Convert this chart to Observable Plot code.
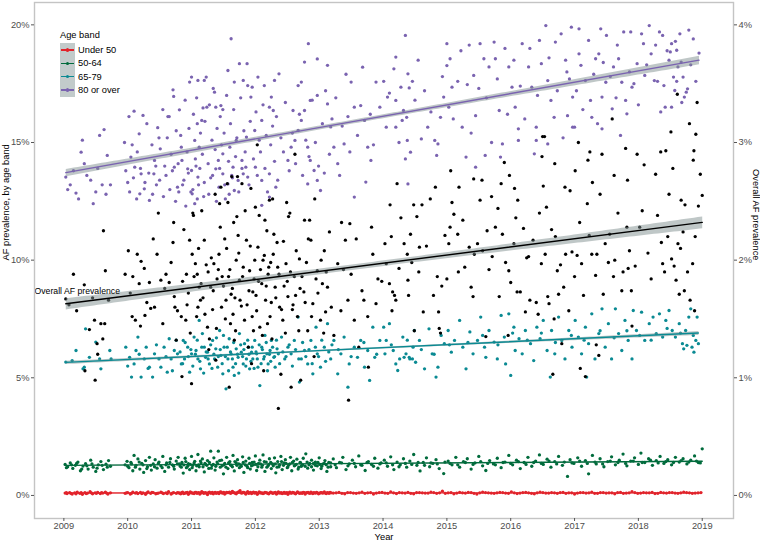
<!DOCTYPE html>
<html>
<head>
<meta charset="utf-8">
<script src="https://cdn.jsdelivr.net/npm/d3@7"></script>
<script src="https://cdn.jsdelivr.net/npm/@observablehq/plot@0.6"></script>
<style>
  html, body { margin: 0; padding: 0; background: #fff; }
  #wrap { position: relative; width: 760px; height: 541px; font-family: "Liberation Sans", Arial, sans-serif; }
  #legend { position: absolute; left: 0; top: 0; font-size: 9.3px; color: #000; }
</style>
</head>
<body>
<div id="wrap"><div id="chart"></div><div id="legend"></div></div>
<script>
// ---- data (t = years since 2009, values in %) ----
const startYear = 2009;
const xTicks = [2009, 2010, 2011, 2012, 2013, 2014, 2015, 2016, 2017, 2018, 2019];
const yTicks = [0, 5, 10, 15, 20];
const overallTicks = [0, 1, 2, 3, 4];
const bandNames = ["Under 50", "50-64", "65-79", "80 or over"];
const bandColors = ["#e2232b", "#006b3c", "#0a8a93", "#7a63b0"];
const annotations = [{label: "Overall AF prevalence", overall: 1.74}];

const under50 = [[.02,.10],[.05,.08],[.09,.12],[.13,.06],[.17,.11],[.21,.14],[.25,.09],[.29,.05],[.33,.12],[.37,.10],[.41,.16],[.45,.07],[.49,.11],[.53,.13],[.57,.08],[.61,.10],[.65,.14],[.69,.06],[.73,.11],
[.96,.09],[1.0,.12],[1.04,.06],[1.08,.14],[1.12,.10],[1.16,.08],[1.2,.13],[1.24,.11],[1.28,.05],[1.32,.15],[1.36,.09],[1.4,.12],[1.44,.07],[1.48,.10],[1.52,.14],[1.56,.08],[1.6,.11],[1.64,.16],[1.68,.06],[1.72,.12],[1.76,.09],
[1.80,.11],[1.83,.07],[1.86,.14],[1.89,.09],[1.92,.12],[1.95,.05],[1.98,.15],[2.01,.10],[2.04,.08],[2.07,.13],[2.10,.11],[2.13,.06],[2.16,.16],[2.19,.09],[2.22,.12],[2.25,.04],[2.28,.14],[2.31,.10],[2.34,.07],[2.37,.13],[2.40,.11],[2.43,.08],[2.46,.15],[2.49,.10],[2.52,.06],[2.55,.13],[2.58,.12],[2.61,.09],[2.64,.17],[2.67,.11],[2.70,.07],[2.73,.14],[2.76,.20],[2.79,.10],[2.82,.13],[2.85,.06],[2.88,.16],[2.91,.11],[2.94,.08],[2.97,.14],[3.00,.12],[3.03,.05],[3.06,.15],[3.09,.10],[3.12,.08],[3.15,.13],[3.18,.11],[3.21,.07],[3.24,.14],[3.27,.09],[3.30,.12],[3.33,.06],[3.36,.15],[3.39,.10],[3.42,.08],[3.45,.13],[3.48,.11],[3.51,.05],[3.54,.14],[3.57,.10],[3.60,.12],[3.63,.07],[3.66,.15],[3.69,.09],[3.72,.11],[3.75,.13],[3.78,.06],[3.81,.12],[3.84,.10],[3.87,.14],[3.90,.08],[3.93,.11],[3.96,.13],[3.99,.07],[4.02,.12],[4.05,.10],[4.08,.15],[4.11,.08],[4.14,.11],[4.17,.13],
[4.22,.10],[4.31,.13],[4.40,.07],[4.49,.12],[4.58,.09],[4.67,.14],[4.76,.11],[4.85,.06],[4.94,.12],[5.03,.10],[5.12,.15],[5.21,.08],[5.30,.11],[5.39,.13],[5.48,.07],[5.57,.12],[5.66,.10],[5.75,.14],[5.84,.09],[5.93,.18],[6.02,.11],[6.11,.07],[6.20,.13],[6.29,.10],[6.38,.12],[6.47,.06],[6.56,.14],[6.65,.11],[6.74,.09],[6.83,.13],[6.92,.10],[7.01,.15],[7.10,.08],[7.19,.12],[7.28,.11],[7.37,.07],[7.46,.14],[7.55,.10],[7.64,.12],[7.73,.09],[7.82,.13],[7.91,.11],[8.00,.06],[8.09,.12],[8.18,.10],[8.27,.14],[8.36,.09],[8.45,.12],[8.54,.11],[8.63,.07],[8.72,.13],[8.81,.10],[8.90,.16],[8.99,.09],[9.08,.12],[9.17,.11],[9.26,.08],[9.35,.13],[9.44,.10],[9.53,.12],[9.62,.09],[9.71,.14],[9.80,.11],[9.89,.10],[9.98,.12]];
const under50More = [[.04,.12],[.11,.09],[.19,.07],[.27,.12],[.35,.08],[.43,.11],[.51,.09],[.59,.12],[.67,.10],
[.98,.11],[1.06,.09],[1.14,.12],[1.22,.08],[1.3,.11],[1.38,.13],[1.46,.09],[1.54,.11],[1.62,.08],[1.7,.10],[1.78,.12],
[1.815,.10],[1.845,.12],[1.875,.08],[1.905,.11],[1.935,.13],[1.965,.09],[1.995,.12],[2.025,.10],[2.055,.13],[2.085,.09],[2.115,.12],[2.145,.10],[2.175,.13],[2.205,.11],[2.235,.09],[2.265,.12],[2.295,.10],[2.325,.13],[2.355,.11],[2.385,.09],[2.415,.12],[2.445,.14],[2.475,.11],[2.505,.13],[2.535,.10],[2.565,.12],[2.595,.14],[2.625,.11],[2.655,.13],[2.685,.10],[2.715,.12],[2.745,.15],[2.775,.11],[2.805,.13],[2.835,.10],[2.865,.12],[2.895,.09],[2.925,.13],[2.955,.11],[2.985,.10],[3.015,.12],[3.045,.09],[3.075,.12],[3.105,.11],[3.135,.10],[3.165,.12],[3.195,.09],[3.225,.11],[3.255,.12],[3.285,.10],[3.315,.13],[3.345,.09],[3.375,.11],[3.405,.12],[3.435,.10],[3.465,.09],[3.495,.12],[3.525,.11],[3.555,.10],[3.585,.13],[3.615,.09],[3.645,.11],[3.675,.12],[3.705,.10],[3.735,.09],[3.765,.12],[3.795,.11],[3.825,.13],[3.855,.09],[3.885,.11],[3.915,.12],[3.945,.10],[3.975,.11],[4.005,.09],[4.035,.12],[4.065,.11],[4.095,.10],[4.125,.12],[4.155,.09],[4.185,.11],
[4.265,.11],[4.355,.09],[4.445,.12],[4.535,.10],[4.625,.11],[4.715,.09],[4.805,.12],[4.895,.10],[4.985,.13],[5.075,.09],[5.165,.11],[5.255,.12],[5.345,.10],[5.435,.09],[5.525,.12],[5.615,.11],[5.705,.10],[5.795,.12],[5.885,.11],[5.975,.09],[6.065,.12],[6.155,.10],[6.245,.11],[6.335,.13],[6.425,.09],[6.515,.11],[6.605,.12],[6.695,.10],[6.785,.11],[6.875,.12],[6.965,.09],[7.055,.11],[7.145,.10],[7.235,.13],[7.325,.09],[7.415,.11],[7.505,.12],[7.595,.10],[7.685,.11],[7.775,.12],[7.865,.09],[7.955,.11],[8.045,.10],[8.135,.12],[8.225,.11],[8.315,.09],[8.405,.12],[8.495,.10],[8.585,.11],[8.675,.12],[8.765,.09],[8.855,.11],[8.945,.12],[9.035,.10],[9.125,.11],[9.215,.13],[9.305,.09],[9.395,.11],[9.485,.12],[9.575,.10],[9.665,.11],[9.755,.12],[9.845,.09],[9.935,.11]];

const age50to64 = [[.02,1.32],[.06,1.22],[.10,1.38],[.14,1.15],[.18,1.28],[.22,1.42],[.26,1.05],[.30,1.25],[.34,1.35],[.38,1.12],[.42,1.50],[.46,1.20],[.50,1.02],[.54,1.30],[.58,1.44],[.62,1.10],[.66,1.33],[.70,1.48],[.73,1.24],
[.96,1.30],[.99,1.45],[1.02,1.18],[1.05,1.40],[1.08,1.05],[1.10,1.70],[1.13,1.28],[1.16,1.55],[1.19,1.12],[1.22,1.36],[1.25,.98],[1.28,1.48],[1.31,1.22],[1.34,1.62],[1.37,1.08],[1.40,1.34],[1.43,1.52],[1.46,1.16],[1.49,1.42],[1.52,1.26],[1.55,1.66],[1.58,1.02],[1.61,1.38],[1.64,1.20],[1.67,1.56],[1.70,1.30],[1.73,1.12],[1.76,1.46],[1.79,1.62],
[1.82,1.25],[1.85,1.40],[1.87,.95],[1.90,1.58],[1.92,1.18],[1.95,1.35],[1.97,1.10],[2.00,1.66],[2.02,1.28],[2.05,1.45],[2.07,1.05],[2.10,1.74],[2.12,1.22],[2.15,1.38],[2.17,1.55],[2.20,1.00],[2.22,1.32],[2.25,1.48],[2.27,1.15],[2.30,1.88],[2.32,1.27],[2.35,1.60],[2.37,1.08],[2.40,1.42],[2.42,1.88],[2.45,1.20],[2.47,1.50],[2.50,.92],[2.52,1.36],[2.55,1.62],[2.57,1.14],[2.60,1.44],[2.62,1.28],[2.65,1.70],[2.67,1.04],[2.70,1.38],[2.72,1.52],[2.75,1.18],[2.77,1.30],[2.80,1.64],[2.82,.98],[2.85,1.46],[2.87,1.24],[2.90,1.58],[2.92,1.12],[2.95,1.40],[2.97,1.30],[3.00,1.68],[3.02,1.06],[3.05,1.36],[3.07,1.50],[3.10,1.20],[3.12,1.72],[3.15,1.02],[3.17,1.42],[3.20,1.26],[3.22,1.56],[3.25,1.14],[3.27,1.34],[3.30,1.60],[3.32,.96],[3.35,1.44],[3.37,1.22],[3.40,1.66],[3.42,1.10],[3.45,1.38],[3.47,1.52],[3.50,1.18],[3.52,1.30],[3.55,1.62],[3.57,1.05],[3.60,1.46],[3.62,1.28],[3.65,1.54],[3.67,1.12],[3.70,1.40],[3.72,1.24],[3.75,1.58],[3.79,1.77],[3.82,1.16],[3.85,1.36],[3.88,1.50],[3.91,1.08],[3.94,1.42],[3.97,1.26],[4.00,1.60],[4.03,1.14],[4.06,1.34],[4.09,1.48],[4.12,1.02],[4.15,1.40],[4.18,1.22],
[4.22,1.55],[4.27,1.18],[4.32,1.40],[4.37,1.62],[4.42,1.10],[4.47,1.34],[4.52,1.50],[4.57,1.22],[4.62,1.68],[4.67,1.28],[4.72,1.06],[4.77,1.44],[4.82,1.32],[4.87,1.58],[4.92,1.16],[4.97,1.38],[5.02,1.50],[5.07,1.24],[5.12,1.64],[5.17,1.10],[5.22,1.42],[5.27,1.30],[5.32,1.56],[5.37,1.20],[5.42,1.46],[5.48,1.74],[5.53,1.28],[5.58,1.04],[5.63,1.40],[5.68,1.60],[5.73,1.22],[5.78,1.36],[5.83,1.52],[5.88,1.14],[5.95,.93],
[6.02,1.46],[6.08,1.30],[6.14,1.62],[6.20,1.20],[6.26,1.44],[6.32,1.56],[6.38,1.12],[6.44,1.38],[6.50,1.66],[6.56,1.26],[6.61,1.06],[6.67,1.48],[6.73,1.34],[6.79,1.58],[6.85,1.18],[6.91,1.42],[6.97,1.70],[7.03,1.30],[7.09,1.50],[7.15,1.14],[7.21,1.40],[7.27,1.62],[7.33,1.24],[7.39,1.46],[7.45,1.72],[7.51,1.32],[7.57,1.54],[7.63,1.20],[7.69,1.44],[7.75,1.66],[7.81,1.28],[7.89,.81],[7.93,1.52],[7.99,1.36],[8.05,1.60],[8.11,1.24],[8.17,1.48],[8.22,.92],[8.28,1.70],[8.34,1.34],[8.40,1.56],[8.46,1.22],[8.52,1.44],[8.58,1.64],[8.64,1.30],[8.70,1.50],[8.76,1.76],[8.82,1.26],[8.88,1.46],[8.94,1.60],[9.00,1.32],[9.04,1.80],[9.10,1.40],[9.16,1.56],[9.22,1.28],[9.28,1.48],[9.34,1.66],[9.40,1.36],[9.46,1.52],[9.52,1.30],[9.58,1.62],[9.64,1.42],[9.70,1.56],[9.76,1.34],[9.82,1.50],[9.88,1.68],[9.94,1.40],[10.0,1.98]];
const age50to64More = [[.04,1.18],[.12,1.30],[.2,1.36],[.28,1.12],[.36,1.26],[.44,1.34],[.52,1.16],[.6,1.28],[.68,1.20],
[1.0,1.24],[1.06,1.34],[1.12,1.20],[1.18,1.42],[1.24,1.30],[1.3,1.14],[1.36,1.28],[1.42,1.22],[1.48,1.36],[1.54,1.18],[1.6,1.30],[1.66,1.40],[1.72,1.24],[1.78,1.34],
[1.81,1.34],[1.84,1.20],[1.88,1.30],[1.91,1.44],[1.94,1.24],[1.98,1.32],[2.01,1.18],[2.04,1.38],[2.08,1.26],[2.11,1.30],[2.14,1.46],[2.18,1.22],[2.21,1.36],[2.24,1.28],[2.28,1.40],[2.31,1.16],[2.34,1.32],[2.38,1.24],[2.41,1.34],[2.44,1.48],[2.48,1.26],[2.51,1.30],[2.54,1.20],[2.58,1.38],[2.61,1.30],[2.64,1.22],[2.68,1.44],[2.71,1.28],[2.74,1.34],[2.78,1.24],[2.81,1.40],[2.84,1.30],[2.88,1.18],[2.91,1.36],[2.94,1.26],[2.98,1.42],[3.01,1.32],[3.04,1.22],[3.08,1.34],[3.11,1.28],[3.14,1.44],[3.18,1.20],[3.21,1.32],[3.24,1.40],[3.28,1.26],[3.31,1.34],[3.34,1.20],[3.38,1.30],[3.41,1.44],[3.44,1.28],[3.48,1.36],[3.51,1.22],[3.54,1.34],[3.58,1.40],[3.61,1.26],[3.64,1.32],[3.68,1.20],[3.71,1.38],[3.74,1.30],[3.78,1.24],[3.81,1.42],[3.84,1.30],[3.88,1.22],[3.91,1.36],[3.94,1.28],[3.98,1.40],[4.01,1.32],[4.04,1.24],[4.08,1.36],[4.11,1.30],[4.14,1.20],[4.18,1.38],
[4.25,1.30],[4.35,1.38],[4.45,1.26],[4.55,1.36],[4.65,1.30],[4.75,1.40],[4.85,1.24],[4.95,1.34],[5.05,1.38],[5.15,1.30],[5.25,1.22],[5.35,1.36],[5.45,1.32],[5.55,1.40],[5.65,1.28],[5.75,1.38],[5.85,1.34],[5.97,1.42],[6.05,1.36],[6.17,1.30],[6.29,1.40],[6.41,1.32],[6.53,1.44],[6.64,1.36],[6.76,1.30],[6.88,1.40],[7.0,1.36],[7.12,1.44],[7.24,1.32],[7.36,1.40],[7.48,1.36],[7.6,1.46],[7.72,1.34],[7.84,1.42],[7.96,1.38],[8.08,1.46],[8.2,1.36],[8.32,1.42],[8.44,1.34],[8.56,1.46],[8.68,1.40],[8.8,1.36],[8.92,1.46],[9.06,1.40],[9.19,1.50],[9.31,1.38],[9.43,1.44],[9.55,1.40],[9.67,1.48],[9.79,1.42],[9.91,1.46],[9.97,1.38]];

const age65to79 = [[.03,5.67],[.13,5.73],[.19,6.16],[.30,5.38],[.32,5.45],[.34,7.08],[.40,5.87],[.50,6.52],[.56,5.80],[.58,5.38],[.72,6.16],[.74,5.80],
[.97,6.30],[1.03,5.87],[1.06,5.03],[1.10,5.59],[1.13,6.16],[1.16,6.73],[1.21,5.03],[1.26,5.80],[1.29,6.30],[1.34,5.45],[1.39,5.03],[1.42,6.02],[1.49,5.80],[1.52,5.45],[1.57,6.30],[1.62,5.24],[1.65,6.66],[1.68,5.80],[1.73,6.16],[1.78,6.02],
[1.84,5.59],[1.87,6.59],[1.89,5.80],[1.94,6.30],[1.97,5.24],[2.00,6.02],[2.04,6.73],[2.07,6.16],[2.10,5.80],[2.12,7.44],[2.14,5.38],[2.17,6.88],[2.20,6.30],[2.22,5.87],[2.25,6.09],[2.28,5.59],[2.33,6.59],[2.36,5.80],[2.38,6.23],[2.41,5.45],[2.44,7.01],[2.46,5.95],[2.49,5.17],[2.51,6.30],[2.54,4.53],[2.57,5.80],[2.59,6.66],[2.62,6.02],[2.65,5.45],[2.67,5.10],[2.70,6.23],[2.73,5.87],[2.75,6.88],[2.78,6.09],[2.81,5.59],[2.83,6.45],[2.86,5.80],[2.89,6.30],[2.91,5.38],[2.94,6.09],[2.96,5.80],[2.99,6.59],[3.02,6.02],[3.04,5.45],[3.07,4.67],[3.10,6.30],[3.13,5.80],[3.15,6.80],[3.18,6.02],[3.20,5.59],[3.23,6.16],[3.25,6.59],[3.29,5.87],[3.31,5.45],[3.34,6.23],[3.36,6.02],[3.41,6.73],[3.46,5.80],[3.51,6.30],[3.56,6.02],[3.61,6.59],[3.67,7.58],[3.69,4.82],[3.72,5.80],[3.77,6.16],[3.82,5.59],[3.87,6.59],[3.90,5.17],[3.95,7.15],[3.97,6.02],[4.02,5.45],[4.08,6.30],[4.13,7.30],[4.18,5.80],
[4.23,6.59],[4.29,5.17],[4.34,6.02],[4.39,6.73],[4.45,4.60],[4.47,5.59],[4.55,6.30],[4.60,5.87],[4.65,6.59],[4.71,5.45],[4.76,6.16],[4.79,4.89],[4.84,7.15],[4.87,5.87],[4.95,6.59],
[5.01,7.15],[5.03,6.02],[5.05,6.59],[5.10,7.30],[5.16,6.16],[5.20,5.59],[5.23,5.31],[5.26,5.80],[5.31,6.73],[5.33,5.87],[5.36,6.02],[5.41,5.87],[5.42,5.80],[5.46,5.80],[5.47,6.30],[5.49,7.01],[5.51,5.66],[5.57,6.59],[5.65,5.38],[5.72,7.08],[5.77,6.02],[5.83,5.03],[5.86,5.45],[5.91,6.80],[5.96,6.45],
[6.02,7.01],[6.07,6.09],[6.12,6.59],[6.20,7.44],[6.25,6.30],[6.30,5.38],[6.36,6.95],[6.41,6.02],[6.48,6.59],[6.53,7.58],[6.59,6.30],[6.61,5.87],[6.66,7.01],[6.74,6.52],[6.79,5.80],[6.85,7.65],[6.90,6.73],[6.92,5.59],[6.97,7.72],[7.00,5.10],[7.05,7.15],[7.07,6.16],[7.13,6.66],[7.18,6.02],[7.23,7.01],[7.31,6.45],[7.36,5.73],[7.41,7.15],[7.46,6.66],[7.51,7.44],[7.57,6.16],[7.62,5.03],[7.64,7.01],[7.69,6.02],[7.75,7.58],[7.80,6.59],[7.85,5.80],[7.91,7.01],[7.96,6.30],[8.01,7.44],[8.06,6.73],[8.11,6.02],[8.17,7.15],[8.19,5.03],[8.22,6.45],[8.27,7.72],[8.32,5.80],[8.38,6.88],[8.43,7.93],[8.48,6.30],[8.53,7.30],[8.58,5.80],[8.64,7.93],[8.69,6.88],[8.74,6.16],[8.79,7.44],[8.84,6.59],[8.90,5.80],[8.92,7.86],[8.97,7.01],[9.05,7.79],[9.10,6.59],[9.17,7.30],[9.23,7.58],[9.28,6.88],[9.33,7.72],[9.38,6.73],[9.43,7.44],[9.48,7.86],[9.53,7.01],[9.58,6.73],[9.64,7.30],[9.69,6.45],[9.71,6.23],[9.74,7.01],[9.76,6.38],[9.79,7.58],[9.82,7.93],[9.84,6.30],[9.87,6.09],[9.90,6.59],[9.92,7.58],[9.94,6.45]];
const age65to79More = [[1.0,5.5],[1.18,6.0],[1.32,5.4],[1.45,6.4],[1.6,5.9],[1.7,5.3],[1.76,6.6],
[1.82,6.1],[1.86,5.6],[1.9,6.5],[1.95,5.9],[1.99,6.2],[2.02,5.5],[2.06,6.0],[2.09,6.6],[2.13,5.7],[2.16,6.3],[2.19,5.2],[2.23,6.1],[2.26,5.8],[2.3,6.4],[2.32,5.4],[2.35,6.0],[2.39,6.7],[2.42,5.9],[2.45,6.2],[2.48,5.6],[2.5,6.8],[2.53,5.9],[2.56,6.3],[2.58,5.3],[2.61,6.1],[2.64,5.8],[2.66,6.5],[2.69,5.6],[2.72,6.0],[2.74,5.2],[2.77,6.4],[2.8,5.9],[2.82,6.2],[2.85,5.5],[2.88,6.6],[2.9,6.0],[2.93,5.7],[2.95,6.3],[2.98,5.4],[3.01,6.1],[3.03,5.8],[3.06,6.4],[3.09,5.6],[3.11,6.2],[3.14,5.9],[3.17,6.5],[3.19,5.3],[3.22,6.0],[3.24,5.7],[3.27,6.3],[3.3,5.9],[3.33,6.6],[3.38,5.6],[3.43,6.1],[3.48,5.9],[3.53,6.4],[3.58,5.5],[3.63,6.2],[3.68,5.8],[3.74,6.5],[3.79,5.9],[3.84,6.2],[3.89,5.6],[3.94,6.3],[3.99,5.9],[4.04,6.6],[4.1,5.7],[4.15,6.1],[4.2,6.4],
[4.3,6.2],[4.5,5.9],[4.7,6.5],[4.9,6.0],[5.13,6.4],[5.38,6.6],[5.6,6.2],[5.8,6.0],[6.04,6.4],[6.33,6.5],[6.56,6.8],[6.8,6.4],[7.03,6.9],[7.26,6.6],[7.48,6.9],[7.7,6.5],[7.95,6.8],[8.15,6.6],[8.4,7.0],[8.62,6.7],[8.82,7.0],[9.02,6.8],[9.2,6.6],[9.45,7.1],[9.66,6.9],[9.86,6.8]];

const age80plus = [[.03,13.53],[.10,13.2],[.19,12.85],[.27,14.59],[.29,15.1],[.32,14.1],[.36,13.6],[.46,12.4],[.50,12.9],[.56,15.3],[.60,13.2],[.63,15.55],[.68,14.45],[.73,13.2],
[.95,15.0],[1.02,16.1],[1.05,14.38],[1.10,16.33],[1.11,13.95],[1.18,15.37],[1.19,12.82],[1.21,13.67],[1.24,16.15],[1.26,13.03],[1.34,12.54],[1.41,13.67],[1.42,14.24],[1.47,15.63],[1.49,15.2],[1.51,14.73],[1.63,16.1],[1.65,16.1],[1.71,17.24],[1.72,16.96],[1.73,13.95],[1.78,13.1],
[1.81,16.39],[1.84,14.8],[1.85,14.24],[1.94,13.88],[1.97,17.57],[2.0,17.78],[2.0,13.81],[2.01,12.82],[2.05,15.09],[2.06,14.3],[2.05,12.4],[2.09,15.8],[2.10,17.64],[2.10,13.53],[2.12,14.8],[2.16,15.94],[2.18,16.47],[2.20,17.64],[2.23,17.78],[2.24,16.5],[2.36,17.14],[2.38,16.5],[2.38,13.88],[2.42,14.24],[2.46,16.57],[2.49,16.4],[2.49,14.52],[2.49,13.67],[2.57,18.06],[2.57,13.24],[2.60,14.8],[2.62,19.41],[2.65,13.95],[2.67,17.57],[2.67,12.96],[2.70,15.09],[2.73,13.39],[2.75,18.35],[2.79,14.24],[2.81,17.64],[2.81,13.67],[2.85,13.95],[2.86,15.23],[2.87,18.35],[2.88,17.42],[2.88,13.53],[2.93,16.93],[2.95,17.35],[2.99,15.51],[3.0,13.95],[3.04,17.78],[3.10,15.94],[3.10,13.39],[3.10,12.33],[3.14,17.42],[3.22,16.5],[3.22,13.67],[3.22,12.68],[3.25,16.93],[3.28,16.36],[3.30,17.64],[3.32,13.1],[3.37,17.92],[3.51,14.24],[3.56,14.8],[3.59,16.36],[3.62,15.09],[3.67,15.51],[3.67,17.42],[3.72,15.94],[3.72,17.57],[3.77,16.36],[3.77,18.42],[3.82,14.8],[3.82,13.24],[3.83,19.2],[3.86,16.79],[3.86,14.24],[3.92,13.81],[3.97,18.55],[3.97,17.0],[3.97,13.39],[4.02,12.96],[4.13,18.28],[4.13,16.64],[4.18,15.66],
[4.23,14.8],[4.29,14.1],[4.39,14.94],[4.45,16.1],[4.50,17.57],[4.55,16.5],[4.55,12.68],[4.65,16.57],[4.71,15.94],[4.73,13.32],[4.76,14.8],[4.81,14.24],[4.89,17.57],
[5.01,17.6],[5.05,15.65],[5.07,16.93],[5.17,18.13],[5.20,18.63],[5.20,16.79],[5.20,15.65],[5.28,17.35],[5.30,15.94],[5.32,16.36],[5.35,19.55],[5.35,14.3],[5.37,16.07],[5.38,15.09],[5.39,17.92],[5.39,13.24],[5.41,17.32],[5.43,14.59],[5.46,17.6],[5.60,15.15],[5.70,15.65],[5.81,15.09],[5.84,14.45],[5.86,14.94],[5.90,16.07],[5.95,16.93],
[6.0,18.27],[6.0,19.2],[6.03,16.5],[6.05,18.56],[6.08,17.35],[6.17,17.6],[6.24,15.65],[6.30,14.38],[6.32,17.46],[6.35,19.14],[6.42,17.85],[6.45,16.14],[6.45,13.95],[6.52,19.2],[6.58,18.56],[6.60,14.45],[6.66,18.21],[6.74,19.27],[6.76,18.56],[6.79,17.7],[6.82,16.36],[6.84,14.38],[6.87,14.94],[6.91,19.0],[6.97,18.21],[7.02,17.35],[7.07,16.5],[7.12,15.58],[7.12,15.09],[7.18,19.2],[7.28,18.21],[7.33,17.35],[7.37,14.52],[7.40,15.65],[7.40,15.09],[7.45,19.34],[7.48,18.35],[7.55,19.97],[7.58,17.63],[7.58,14.94],[7.63,16.79],[7.68,16.07],[7.70,19.27],[7.79,19.62],[7.86,18.5],[7.89,16.14],[7.92,17.7],[7.95,19.9],[7.97,16.93],[7.97,15.65],[8.0,15.65],[8.07,19.83],[8.07,18.77],[8.10,18.28],[8.17,17.63],[8.22,19.34],[8.25,16.79],[8.27,16.07],[8.33,18.56],[8.38,18.77],[8.41,19.83],[8.43,16.93],[8.43,15.58],[8.49,17.56],[8.50,19.55],[8.59,16.43],[8.61,18.21],[8.67,19.14],[8.69,18.56],[8.74,17.56],[8.77,19.7],[8.80,16.79],[8.82,16.22],[8.88,19.7],[8.90,17.35],[8.98,18.35],[9.05,19.62],[9.08,19.2],[9.10,17.85],[9.17,19.97],[9.20,18.77],[9.25,17.63],[9.27,19.14],[9.33,19.7],[9.38,19.55],[9.40,17.42],[9.42,16.5],[9.48,18.5],[9.50,18.85],[9.52,19.2],[9.52,16.5],[9.55,17.78],[9.57,17.21],[9.60,18.92],[9.62,18.21],[9.65,19.62],[9.67,18.42],[9.70,17.78],[9.72,16.93],[9.75,17.14],[9.77,17.28],[9.79,19.78]];
const age80plusMore = [[1.0,13.3],[1.07,14.9],[1.15,14.6],[1.3,15.8],[1.38,14.9],[1.45,13.2],[1.55,16.4],[1.58,14.0],[1.62,15.2],[1.68,14.5],[1.76,15.5],[1.8,12.9],
[1.83,15.3],[1.88,13.4],[1.9,16.8],[1.93,14.6],[1.96,15.6],[1.99,12.9],[2.03,16.2],[2.07,14.0],[2.08,16.9],[2.11,13.2],[2.14,15.4],[2.17,14.5],[2.19,12.7],[2.21,15.9],[2.26,14.1],[2.28,16.6],[2.3,13.5],[2.32,15.1],[2.34,17.3],[2.37,14.7],[2.4,15.6],[2.43,13.1],[2.45,16.1],[2.47,14.9],[2.51,15.4],[2.53,12.6],[2.55,17.0],[2.58,14.2],[2.61,15.8],[2.63,13.6],[2.66,16.4],[2.69,14.4],[2.71,15.2],[2.74,12.9],[2.77,16.9],[2.79,13.9],[2.82,15.5],[2.84,14.6],[2.9,13.2],[2.92,15.9],[2.97,14.3],[3.01,16.3],[3.03,13.6],[3.06,15.1],[3.08,14.6],[3.12,16.6],[3.15,13.9],[3.17,15.3],[3.19,12.9],[3.24,14.9],[3.27,15.7],[3.3,14.2],[3.33,16.1],[3.35,13.4],[3.4,15.2],[3.44,14.6],[3.47,16.7],[3.53,13.8],[3.58,15.4],[3.63,14.1],[3.69,16.2],[3.74,13.6],[3.79,15.1],[3.84,14.4],[3.89,16.8],[3.94,15.0],[3.99,14.0],[4.05,15.8],[4.08,13.7],[4.1,17.2],[4.16,14.5],[4.2,16.0],
[4.26,16.9],[4.32,13.6],[4.36,15.7],[4.42,17.9],[4.48,14.6],[4.6,15.3],[4.68,18.2],[4.8,16.2],[4.85,14.9],[4.95,16.5],[5.1,17.1],[5.25,15.0],[5.5,16.8],[5.55,18.5],[5.65,17.2],[5.75,16.3],[5.93,17.8],
[6.1,16.0],[6.22,18.9],[6.38,15.4],[6.5,17.3],[6.62,16.9],[6.7,15.0],[6.95,16.2],[7.05,18.5],[7.15,17.4],[7.22,16.0],[7.3,19.0],[7.42,17.0],[7.6,18.6],[7.73,17.2],[7.82,15.2],[7.88,18.0],[8.03,17.2],[8.13,16.4],[8.3,17.9],[8.36,15.8],[8.45,18.4],[8.56,17.8],[8.65,16.9],[8.72,15.3],[8.86,18.0],[8.93,17.5],[9.0,16.6],[9.13,18.3],[9.3,17.6],[9.35,16.3],[9.45,18.9],[9.6,17.6],[9.68,16.7],[9.82,18.3],[9.9,17.6],[9.95,18.8],
[.06,13.0],[.15,13.8],[.23,12.6],[.42,13.4],[.53,13.9],[.66,12.8],
[.97,13.8],[1.03,12.9],[1.09,13.5],[1.14,12.6],[1.2,13.9],[1.27,13.3],[1.33,13.7],[1.39,12.8],[1.44,14.0],[1.5,13.4],[1.56,12.7],[1.6,13.6],[1.66,13.0],[1.7,13.8],[1.75,12.5],[1.79,14.1],[1.86,13.2],[1.91,12.3],[1.95,13.7],[2.02,13.0],[2.09,12.6],[2.13,13.9],[2.2,13.3],[2.27,12.8],[2.33,13.6],[2.39,12.5],[2.44,13.9],[2.52,13.2],[2.59,12.8],[2.64,13.5],
[9.58,19.3],[9.86,19.4]];

const overall = [[.03,1.67],[.08,1.62],[.15,1.88],[.20,1.57],[.32,1.79],[.33,1.06],[.40,1.41],[.45,1.68],[.48,1.49],[.49,.98],[.52,1.29],[.53,1.20],[.58,1.46],[.61,1.33],[.62,2.25],[.64,1.46],[.65,1.91],[.70,1.66],
[.96,1.88],[1.01,2.08],[1.07,1.52],[1.08,1.86],[1.12,1.49],[1.15,2.05],[1.20,1.44],[1.21,1.99],[1.26,1.93],[1.27,1.53],[1.34,1.81],[1.36,1.59],[1.42,1.60],[1.46,2.05],[1.48,2.40],[1.52,1.83],[1.60,1.88],[1.65,1.81],[1.71,2.15],[1.72,2.32],[1.73,1.69],[1.74,1.60],[1.78,1.57],
[1.84,1.52],[1.85,1.01],[1.91,1.49],[1.92,1.88],[1.95,1.72],[1.97,2.17],[2.0,.95],[2.01,2.05],[2.02,2.40],[2.03,2.38],[2.06,1.97],[2.09,1.88],[2.10,1.60],[2.12,1.77],[2.14,1.66],[2.15,1.80],[2.2,2.17],[2.21,1.54],[2.25,1.43],[2.26,1.90],[2.28,1.33],[2.3,1.77],[2.33,1.58],[2.35,1.97],[2.37,2.56],[2.38,1.15],[2.40,1.84],[2.43,2.05],[2.45,2.28],[2.46,2.62],[2.48,1.86],[2.50,1.78],[2.54,1.66],[2.55,2.10],[2.56,2.65],[2.57,2.49],[2.59,.92],[2.60,1.92],[2.61,1.46],[2.62,1.71],[2.63,2.71],[2.65,1.54],[2.67,1.32],[2.68,1.68],[2.7,2.00],[2.71,2.37],[2.72,2.71],[2.73,2.21],[2.75,1.83],[2.78,1.61],[2.79,2.65],[2.80,1.86],[2.83,1.49],[2.86,2.17],[2.89,1.26],[2.90,1.74],[2.91,1.91],[2.93,2.61],[2.94,1.12],[2.96,1.73],[2.97,1.40],[2.99,2.00],[3.0,2.45],[3.02,1.57],[3.03,2.98],[3.04,2.11],[3.05,1.82],[3.07,1.43],[3.1,1.80],[3.12,2.00],[3.13,1.06],[3.15,2.34],[3.16,1.66],[3.18,2.25],[3.2,1.88],[3.21,1.94],[3.22,2.51],[3.23,1.52],[3.25,1.64],[3.26,1.33],[3.27,2.52],[3.28,2.05],[3.31,1.77],[3.34,2.15],[3.35,1.94],[3.36,.74],[3.38,1.60],[3.4,1.03],[3.43,1.49],[3.45,1.78],[3.48,1.97],[3.49,2.49],[3.51,1.69],[3.52,2.37],[3.55,1.90],[3.56,.92],[3.58,1.58],[3.61,1.86],[3.62,2.90],[3.63,1.70],[3.66,1.52],[3.69,2.01],[3.70,1.76],[3.71,.98],[3.76,1.73],[3.77,2.34],[3.8,1.98],[3.82,1.40],[3.85,2.34],[3.87,2.17],[3.9,1.63],[3.92,1.18],[3.95,1.84],[3.97,1.91],[4.02,1.49],[4.05,1.80],[4.08,2.08],[4.1,1.56],[4.13,1.77],
[4.23,1.36],[4.29,1.97],[4.34,1.57],[4.35,2.32],[4.41,2.17],[4.45,1.66],[4.46,.81],[4.48,2.31],[4.5,1.88],[4.55,1.49],[4.62,1.26],[4.67,1.74],[4.76,1.52],[4.77,1.09],[4.84,2.05],[4.89,1.63],[4.92,1.84],[5.03,2.14],[5.05,1.97],[5.1,1.80],[5.11,2.47],[5.13,2.20],[5.14,1.57],[5.15,1.73],[5.18,1.70],[5.2,1.66],[5.22,2.65],[5.25,1.93],[5.33,2.14],[5.38,2.05],[5.39,1.83],[5.4,1.70],[5.43,2.22],[5.48,2.47],[5.49,1.40],[5.53,2.37],[5.56,1.90],[5.57,2.11],[5.61,2.47],[5.63,1.56],[5.79,1.70],[5.82,2.62],[5.85,1.86],[5.87,1.56],[5.88,1.42],[5.9,1.38],[5.92,1.78],[5.97,2.21],
[6.03,2.14],[6.05,2.28],[6.06,2.76],[6.08,2.49],[6.11,2.39],[6.17,2.22],[6.18,1.90],[6.19,2.62],[6.28,1.94],[6.35,2.11],[6.38,1.77],[6.41,1.69],[6.42,2.69],[6.43,2.05],[6.48,2.14],[6.52,2.51],[6.55,2.68],[6.56,2.08],[6.61,1.35],[6.63,2.25],[6.7,2.54],[6.71,2.03],[6.76,2.28],[6.82,1.69],[6.85,2.65],[6.87,2.22],[6.9,2.83],[6.92,1.98],[6.96,1.36],[6.97,1.91],[6.98,2.72],[7.0,1.81],[7.05,2.14],[7.06,2.61],[7.1,1.73],[7.11,2.51],[7.15,1.73],[7.2,2.27],[7.23,1.56],[7.28,2.03],[7.3,1.66],[7.35,2.17],[7.4,1.64],[7.43,1.54],[7.48,1.97],[7.49,2.88],[7.5,3.05],[7.51,2.63],[7.53,3.05],[7.54,2.05],[7.56,2.45],[7.58,1.69],[7.6,1.63],[7.66,1.03],[7.68,1.50],[7.69,2.82],[7.7,2.20],[7.73,1.91],[7.75,1.71],[7.8,1.29],[7.83,1.77],[7.85,2.62],[7.86,2.05],[7.91,1.57],[7.93,2.59],[7.96,2.07],[8.0,1.86],[8.01,2.76],[8.04,2.04],[8.06,3.00],[8.09,1.08],[8.11,1.97],[8.14,1.70],[8.17,1.01],[8.21,2.85],[8.23,2.21],[8.24,2.92],[8.27,2.05],[8.28,2.66],[8.33,1.87],[8.34,1.28],[8.35,2.05],[8.38,1.19],[8.4,2.56],[8.43,2.90],[8.45,1.71],[8.53,1.98],[8.55,2.22],[8.59,3.20],[8.61,1.86],[8.62,2.72],[8.63,2.00],[8.74,1.74],[8.76,1.90],[8.8,2.95],[8.82,2.28],[8.83,2.68],[8.84,1.93],[8.89,1.74],[8.9,1.44],[8.95,1.95],[8.98,2.90],[9.02,2.28],[9.09,2.81],[9.2,1.84],[9.27,2.73],[9.35,2.92],[9.36,2.15],[9.38,1.97],[9.41,1.90],[9.43,2.93],[9.46,2.20],[9.51,3.09],[9.52,2.01],[9.54,2.78],[9.56,1.95],[9.59,1.83],[9.61,3.41],[9.62,2.14],[9.64,1.71],[9.66,2.10],[9.67,2.51],[9.72,1.74],[9.73,2.47],[9.77,1.90],[9.8,3.16],[9.81,1.66],[9.85,1.97],[9.86,2.85],[9.87,2.93],[9.88,1.57],[9.89,2.20],[9.9,3.07],[9.92,3.34],[9.97,2.73],[10.0,2.55]];
const overallMore = [[1.04,1.72],[1.18,1.80],[1.3,1.64],[1.4,2.18],[1.55,1.46],[1.58,1.76],[1.68,1.98],[1.76,1.32],
[1.86,1.82],[1.88,2.26],[1.93,1.62],[1.98,1.38],[2.04,1.86],[2.08,1.52],[2.11,2.10],[2.16,2.42],[2.18,1.68],[2.23,1.96],[2.27,1.24],[2.31,2.02],[2.34,1.74],[2.39,1.42],[2.42,1.92],[2.44,2.48],[2.47,1.60],[2.52,2.18],[2.53,1.50],[2.58,1.86],[2.64,1.76],[2.66,2.32],[2.69,1.40],[2.74,2.06],[2.76,1.66],[2.81,1.94],[2.84,2.42],[2.87,1.62],[2.92,2.12],[2.95,1.52],[2.98,1.84],[3.01,1.70],[3.06,2.38],[3.08,1.92],[3.11,1.36],[3.14,2.04],[3.17,1.78],[3.19,1.46],[3.24,1.98],[3.29,2.22],[3.32,1.68],[3.37,1.88],[3.41,1.58],[3.44,2.16],[3.47,1.38],[3.5,1.82],[3.54,2.40],[3.59,1.62],[3.64,2.08],[3.68,1.40],[3.73,1.86],[3.78,1.64],[3.83,2.18],[3.88,1.52],[3.93,2.52],[3.98,1.72],[4.03,2.00],[4.07,1.38],[4.11,1.90],[4.16,2.24],[4.19,1.60],
[4.38,1.92],[4.58,2.18],[4.7,1.66],[4.82,2.28],[4.98,1.82],[5.28,2.36],[5.45,1.98],[5.68,2.12],[5.74,2.52],[6.0,1.84],[6.25,2.34],[6.66,1.92],[6.8,2.44],[7.08,2.36],[7.25,2.02],[7.45,2.40],[7.64,2.26],[7.78,1.96],[8.08,2.32],[8.2,2.48],[8.48,2.14],[8.68,2.40],[8.86,2.08],[9.06,2.42],[9.15,2.06],[9.3,2.38],[9.48,2.56],[9.7,2.24],[9.94,2.46]];

// ---- build tables ----
const bandSeries = [under50.concat(under50More), age50to64.concat(age50to64More), age65to79.concat(age65to79More), age80plus.concat(age80plusMore)];
const bandRows = bandSeries.map((s, i) => s.map(([t, v]) => ({year: startYear + t, value: v, band: bandNames[i]})));
const overallRows = overall.concat(overallMore).map(([t, v]) => ({year: startYear + t, overall: v}));
const ratio = 5; // left axis % = 5 x right axis %

const font = "'Liberation Sans', Arial, sans-serif";
const dotR = 1.65;
const marks = [];
bandRows.forEach((rows, i) => {
  marks.push(Plot.dot(rows, {x: "year", y: "value", r: dotR, fill: bandColors[i], stroke: "none"}));
});
marks.push(Plot.dot(overallRows, {x: "year", y: d => d.overall * ratio, r: dotR, fill: "#000", stroke: "none"}));
bandRows.forEach((rows, i) => {
  marks.push(Plot.linearRegressionY(rows, {x: "year", y: "value", stroke: bandColors[i], strokeWidth: 1.4, fill: "#7f8f8f", fillOpacity: 0.5, ci: 0.75}));
});
marks.push(Plot.linearRegressionY(overallRows, {x: "year", y: d => d.overall * ratio, stroke: "#000", strokeWidth: 1.4, fill: "#7f8f8f", fillOpacity: 0.5, ci: 0.75}));
marks.push(Plot.text(annotations, {frameAnchor: "left", y: d => d.overall * ratio, text: "label", textAnchor: "start", fontSize: 8.7, fill: "#000"}));
marks.push(Plot.frame({stroke: "#c4c4c4", strokeWidth: 1.4}));
marks.push(Plot.axisX({ticks: xTicks, tickFormat: d => String(d), tickSize: 3, tickPadding: 1, stroke: "#555", fill: "#4d4d4d", fontSize: 9.3, label: null}));
marks.push(Plot.axisY({anchor: "left", ticks: yTicks, tickFormat: d => d + "%", tickSize: 3, tickPadding: 2, stroke: "#555", fill: "#4d4d4d", fontSize: 9.3, label: null}));
marks.push(Plot.axisY({anchor: "right", ticks: overallTicks.map(v => v * ratio), tickFormat: d => (d / ratio) + "%", tickSize: 3, tickPadding: 2, stroke: "#555", fill: "#4d4d4d", fontSize: 9.3, label: null}));
marks.push(Plot.text(["Year"], {frameAnchor: "bottom", text: d => d, lineAnchor: "bottom", dy: 21, fontSize: 9.3, fill: "#000"}));
marks.push(Plot.text(["AF prevalence, by age band"], {frameAnchor: "left", text: d => d, rotate: -90, dx: -28, fontSize: 9.3, fill: "#000"}));
marks.push(Plot.text(["Overall AF prevalence"], {frameAnchor: "right", text: d => d, rotate: 90, dx: 22, fontSize: 9.3, fill: "#000"}));

const chart = Plot.plot({
  width: 760, height: 541,
  marginLeft: 34, marginRight: 27, marginTop: 2, marginBottom: 23,
  x: {domain: [2008.54, 2019.49], label: null},
  y: {domain: [-0.98, 20.95], label: null},
  style: {fontFamily: font, fontSize: "9.3px", background: "#fff", overflow: "visible"},
  marks
});
document.getElementById("chart").appendChild(chart);

// ---- legend ----
const lg = document.getElementById("legend");
const mk = (html, css) => { const d = document.createElement("div"); d.textContent = html; d.style.cssText = "position:absolute;" + css; lg.appendChild(d); return d; };
mk("Age band", "left:60px;top:30px;white-space:nowrap;");
mk("", "left:60px;top:43px;width:15px;height:54px;background:#c2cbcb;");
bandNames.forEach((name, i) => {
  const cy = 50 + i * 13.33;
  mk("", `left:61px;top:${cy - 0.75}px;width:13px;height:1.5px;background:${bandColors[i]};`);
  mk("", `left:${67.5 - 1.75}px;top:${cy - 1.75}px;width:3.5px;height:3.5px;border-radius:50%;background:${bandColors[i]};`);
  mk(name, `left:78px;top:${cy - 6}px;white-space:nowrap;line-height:12px;`);
});
</script>
</body>
</html>
